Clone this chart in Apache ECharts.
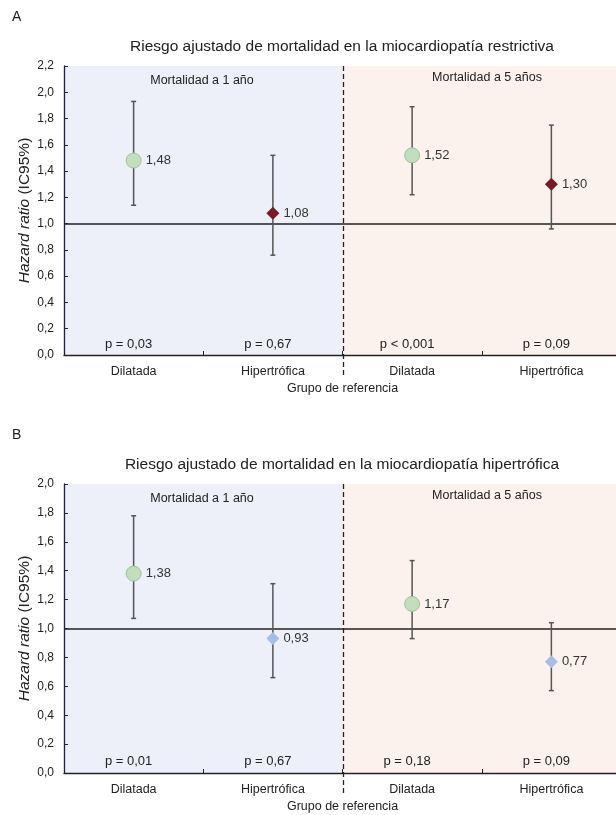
<!DOCTYPE html>
<html>
<head>
<meta charset="utf-8">
<script src="https://cdn.jsdelivr.net/npm/echarts@6/dist/echarts.min.js"></script>
<style>
  html, body { margin: 0; padding: 0; background: #fff; }
  #chart { width: 616px; height: 815px; }
</style>
</head>
<body>
<div id="chart"></div>
<script>
const categories = ['Dilatada', 'Hipertrófica', 'Dilatada', 'Hipertrófica'];
const periods = ['Mortalidad a 1 año', 'Mortalidad a 5 años'];
const titles = [
  'Riesgo ajustado de mortalidad en la miocardiopatía restrictiva',
  'Riesgo ajustado de mortalidad en la miocardiopatía hipertrófica'
];

// panel A - restrictiva
const hrA = [1.48, 1.08, 1.52, 1.30];
const lowA = [1.14, 0.76, 1.22, 0.96];
const highA = [1.93, 1.52, 1.89, 1.75];
const pA = ['p = 0,03', 'p = 0,67', 'p < 0,001', 'p = 0,09'];

// panel B - hipertrofica
const hrB = [1.38, 0.93, 1.17, 0.77];
const lowB = [1.07, 0.66, 0.93, 0.57];
const highB = [1.78, 1.31, 1.47, 1.04];
const pB = ['p = 0,01', 'p = 0,67', 'p = 0,18', 'p = 0,09'];

const yMax = [2.2, 2.0];

const FONT = '"Liberation Sans", Arial, sans-serif';
const BLUE_BG = '#edf0f8';
const PEACH_BG = '#fcf2ed';
const GREEN = '#c2debd';
const DARKRED = '#7a1a29';
const LIGHTBLUE = '#a7bce6';

const comma = (v, d) => v.toFixed(d).replace('.', ',');

const chart = echarts.init(document.getElementById('chart'));

const gridTops = [66, 484];
const gridH = [289, 289];

const grids = [], xAxes = [], yAxes = [], series = [], graphics = [];

function band(params, api) {
  const idx = api.value(0);
  const c = api.coord([idx, 0]);
  const w = api.size([1, 0])[0];
  const cs = params.coordSys;
  // slight overlap so the bands have no seam
  return {
    type: 'rect',
    shape: { x: c[0] - w / 2 - 0.5, y: cs.y, width: w + 1, height: cs.height },
    style: { fill: idx < 2 ? BLUE_BG : PEACH_BG }
  };
}

function divider(params, api) {
  const idx = api.value(0);
  const c = api.coord([idx, 0]);
  const w = api.size([1, 0])[0];
  const cs = params.coordSys;
  const x = Math.round(c[0] - w / 2) + 0.5;
  return {
    type: 'line',
    shape: { x1: x, y1: cs.y, x2: x, y2: cs.y + cs.height + 21 },
    style: { stroke: '#222', lineWidth: 1.3, lineDash: [5, 3] }
  };
}

function errBar(params, api) {
  const x = api.value(0);
  const lo = api.coord([x, api.value(1)]);
  const hi = api.coord([x, api.value(2)]);
  const cap = 2.5;
  const st = { stroke: '#555', lineWidth: 1.5 };
  return {
    type: 'group',
    children: [
      { type: 'line', shape: { x1: lo[0], y1: lo[1], x2: hi[0], y2: hi[1] }, style: st },
      { type: 'line', shape: { x1: lo[0] - cap, y1: lo[1], x2: lo[0] + cap, y2: lo[1] }, style: st },
      { type: 'line', shape: { x1: hi[0] - cap, y1: hi[1], x2: hi[0] + cap, y2: hi[1] }, style: st }
    ]
  };
}

const panels = [
  { hr: hrA, low: lowA, high: highA, p: pA, diamond: DARKRED },
  { hr: hrB, low: lowB, high: highB, p: pB, diamond: LIGHTBLUE }
];

panels.forEach((pn, i) => {
  grids.push({ left: 64, width: 557, top: gridTops[i], height: gridH[i], outerBoundsMode: 'none' });
  xAxes.push({
    type: 'category', gridIndex: i, data: categories, z: 10,
    axisLine: { lineStyle: { color: '#222', width: 1.3 } },
    axisTick: { show: true, inside: true, length: 4, lineStyle: { color: '#222' } },
    axisLabel: { color: '#222', fontSize: 12.5, fontFamily: FONT, margin: 10, interval: 0 },
    name: 'Grupo de referencia', nameLocation: 'middle', nameGap: 27, nameMoveOverlap: false,
    nameTextStyle: { color: '#222', fontSize: 12.5, fontFamily: FONT }
  });
  yAxes.push({
    type: 'value', gridIndex: i, min: 0, max: yMax[i], interval: 0.2, z: 10,
    axisLine: { show: true, lineStyle: { color: '#1e2440', width: 1.3 } },
    axisTick: { show: true, inside: true, length: 4, lineStyle: { color: '#1e2440' } },
    splitLine: { show: false },
    axisLabel: { color: '#222', fontSize: 12, fontFamily: FONT, margin: 10, formatter: v => comma(v, 1) },
    name: '{i|Hazard ratio} (IC95%)', nameLocation: 'middle', nameGap: 31, nameMoveOverlap: false,
    nameTextStyle: {
      color: '#222', fontSize: 15.5, fontFamily: FONT,
      rich: { i: { fontStyle: 'italic', fontSize: 15.5, fontFamily: FONT, color: '#222' } }
    }
  });

  series.push({
    type: 'custom', xAxisIndex: i, yAxisIndex: i, z: 0, silent: true,
    renderItem: band, data: categories.map((c, k) => [k])
  });
  series.push({
    type: 'custom', xAxisIndex: i, yAxisIndex: i, z: 1, silent: true, clip: false,
    renderItem: divider, data: [[2]]
  });
  series.push({
    type: 'custom', xAxisIndex: i, yAxisIndex: i, z: 3, silent: true,
    renderItem: errBar,
    data: pn.hr.map((v, k) => [k, pn.low[k], pn.high[k]])
  });
  series.push({
    type: 'scatter', xAxisIndex: i, yAxisIndex: i, z: 4, silent: true,
    data: pn.hr.map((v, k) => ({
      value: [k, v],
      symbol: k % 2 === 0 ? 'circle' : 'diamond',
      symbolSize: k % 2 === 0 ? 15 : 13,
      itemStyle: k % 2 === 0
        ? { color: GREEN, borderColor: '#a0c29d', borderWidth: 1, opacity: 1 }
        : { color: pn.diamond, opacity: 1 }
    })),
    label: {
      show: true, position: 'right', distance: 4, color: '#333', fontSize: 13, fontFamily: FONT,
      formatter: p => comma(p.value[1], 2)
    },
    markLine: {
      silent: true, symbol: 'none', z: 2,
      label: { show: false },
      lineStyle: { color: '#222', width: 1.5, type: 'solid' },
      data: [{ yAxis: 1 }]
    }
  });
  series.push({
    type: 'scatter', xAxisIndex: i, yAxisIndex: i, z: 4, silent: true, symbolSize: 0,
    itemStyle: { opacity: 1 },
    data: pn.p.map((t, k) => ({ value: [k, 0.08], name: t })),
    label: {
      show: true, position: 'inside', offset: [-5, 0], color: '#222', fontSize: 13, fontFamily: FONT,
      formatter: p => p.name
    }
  });

  graphics.push({
    type: 'text', left: 12, top: gridTops[i] - 56, z: 100,
    style: { text: i === 0 ? 'A' : 'B', fontSize: 14, fontFamily: FONT, fill: '#222' }
  });
  graphics.push({
    type: 'text', x: 342, y: gridTops[i] - 19, z: 100,
    style: { text: titles[i], fontSize: 15.5, fontFamily: FONT, fill: '#222', align: 'center', verticalAlign: 'middle' }
  });
  graphics.push({
    type: 'text', x: 202, y: gridTops[i] + 15, z: 100,
    style: { text: periods[0], fontSize: 12.5, fontFamily: FONT, fill: '#222', align: 'center', verticalAlign: 'middle' }
  });
  graphics.push({
    type: 'text', x: 487, y: gridTops[i] + 12, z: 100,
    style: { text: periods[1], fontSize: 12.5, fontFamily: FONT, fill: '#222', align: 'center', verticalAlign: 'middle' }
  });
});

chart.setOption({
  animation: false,
  textStyle: { fontFamily: FONT },
  grid: grids,
  xAxis: xAxes,
  yAxis: yAxes,
  series: series,
  graphic: graphics
});
</script>
</body>
</html>
